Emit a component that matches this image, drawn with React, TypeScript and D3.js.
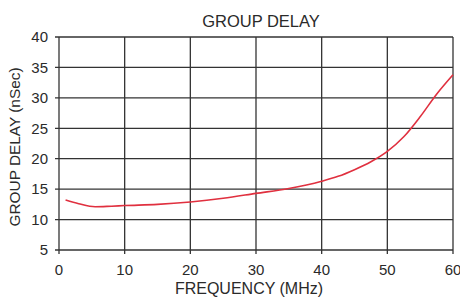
import { useMemo } from "react";
import * as d3 from "d3";

const freqs = [1, 3, 5.5, 8, 10, 15, 20, 25, 30, 35, 40, 42.5, 45, 47.5, 50, 52.5, 55, 57.5, 60];
const delays = [13.2, 12.6, 12.1, 12.2, 12.3, 12.5, 12.9, 13.5, 14.3, 15.1, 16.3, 17.1, 18.2, 19.5, 21.2, 23.6, 26.9, 30.6, 33.8];
const xTicks = [0, 10, 20, 30, 40, 50, 60];
const yTicks = [5, 10, 15, 20, 25, 30, 35, 40];

const W = 460;
const H = 298;
const margin = { top: 37, right: 7, bottom: 48, left: 59 };
const font = "'Liberation Sans', Arial, sans-serif";
const textColor = "#2a2a2a";

export default function App() {
  const iw = W - margin.left - margin.right;
  const ih = H - margin.top - margin.bottom;

  const x = useMemo(() => d3.scaleLinear().domain([0, 60]).range([0, iw]), [iw]);
  const y = useMemo(() => d3.scaleLinear().domain([5, 40]).range([ih, 0]), [ih]);

  const pts = freqs.map((f, i) => [f, delays[i]] as [number, number]);
  const path =
    d3
      .line<[number, number]>()
      .x((d) => x(d[0]))
      .y((d) => y(d[1]))
      .curve(d3.curveMonotoneX)(pts) || "";

  return (
    <svg
      width={W}
      height={H}
      style={{ position: "absolute", left: 0, top: 0, background: "#fff" }}
    >
      <text
        x={261}
        y={26.5}
        textAnchor="middle"
        fontFamily={font}
        fontSize={16.5}
        fill={textColor}
      >
        GROUP DELAY
      </text>
      <g transform={`translate(${margin.left},${margin.top})`}>
        {xTicks.map((t) => (
          <g key={"x" + t}>
            <line x1={x(t)} x2={x(t)} y1={0} y2={ih + 4} stroke="#333" strokeWidth={1.3} />
            <text
              x={x(t)}
              y={ih + 25}
              textAnchor="middle"
              fontFamily={font}
              fontSize={15}
              fill={textColor}
            >
              {t}
            </text>
          </g>
        ))}
        {yTicks.map((t) => (
          <g key={"y" + t}>
            <line x1={-4} x2={iw} y1={y(t)} y2={y(t)} stroke="#333" strokeWidth={1.3} />
            <text
              x={-11}
              y={y(t)}
              dy="0.35em"
              textAnchor="end"
              fontFamily={font}
              fontSize={15}
              fill={textColor}
            >
              {t}
            </text>
          </g>
        ))}
        <path d={path} fill="none" stroke="#e0303f" strokeWidth={1.6} />
      </g>
      <text
        x={249}
        y={293.5}
        textAnchor="middle"
        fontFamily={font}
        fontSize={16}
        fill={textColor}
      >
        FREQUENCY (MHz)
      </text>
      <text
        transform={`translate(20,147) rotate(-90)`}
        textAnchor="middle"
        fontFamily={font}
        fontSize={15.4}
        fill={textColor}
      >
        GROUP DELAY (nSec)
      </text>
    </svg>
  );
}
